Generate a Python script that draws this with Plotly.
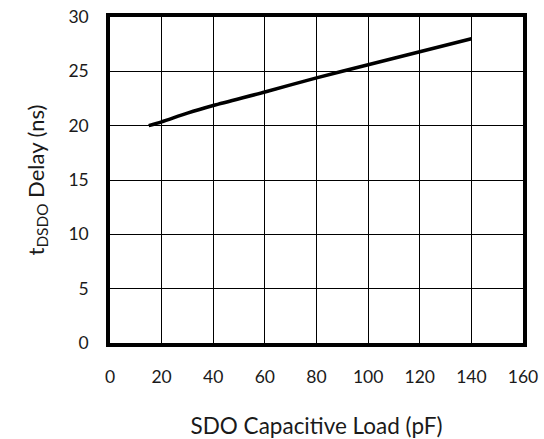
import plotly.graph_objects as go

load_pf = [15, 20, 30, 40, 60, 80, 100, 120, 140]
delay_ns = [20.0, 20.35, 21.15, 21.85, 23.1, 24.4, 25.6, 26.8, 28.0]

x_ticks = [0, 20, 40, 60, 80, 100, 120, 140, 160]
y_ticks = [0, 5, 10, 15, 20, 25, 30]

fig = go.Figure()
fig.add_trace(go.Scatter(x=load_pf, y=delay_ns, mode="lines",
                         line=dict(color="black", width=3.5, shape="spline", smoothing=0.8),
                         showlegend=False, hoverinfo="skip"))

font = dict(family="Lato, 'Open Sans', sans-serif", size=17, color="#1a1a1a")

fig.update_layout(
    width=544, height=439,
    margin=dict(l=110, r=21, t=17, b=96),
    paper_bgcolor="white", plot_bgcolor="white",
    font=font,
    xaxis=dict(range=[0, 160], tickvals=x_ticks, showgrid=True, gridcolor="black", gridwidth=1.3,
               zeroline=False, showline=True, linecolor="black", linewidth=3.5, mirror=True,
               automargin=False,
               ticks="", ticklabelstandoff=15, tickfont=dict(size=17.5), ticklabeloverflow="allow",
               title=dict(text="SDO Capacitive Load (pF)", font=dict(size=22.5), standoff=35)),
    yaxis=dict(range=[0, 30], tickvals=y_ticks, showgrid=True, gridcolor="black", gridwidth=1.3,
               zeroline=False, showline=True, linecolor="black", linewidth=3.5, mirror=True,
               automargin=False,
               ticks="", ticklabelstandoff=14, tickfont=dict(size=17.5), ticklabeloverflow="allow",
               title=dict(text="t<sub>DSDO</sub> Delay (ns)", font=dict(size=22), standoff=19)),
)

fig.write_html("out.html", config={"displayModeBar": False},
               post_script="document.body.style.margin='0';document.body.style.overflow='hidden';")
